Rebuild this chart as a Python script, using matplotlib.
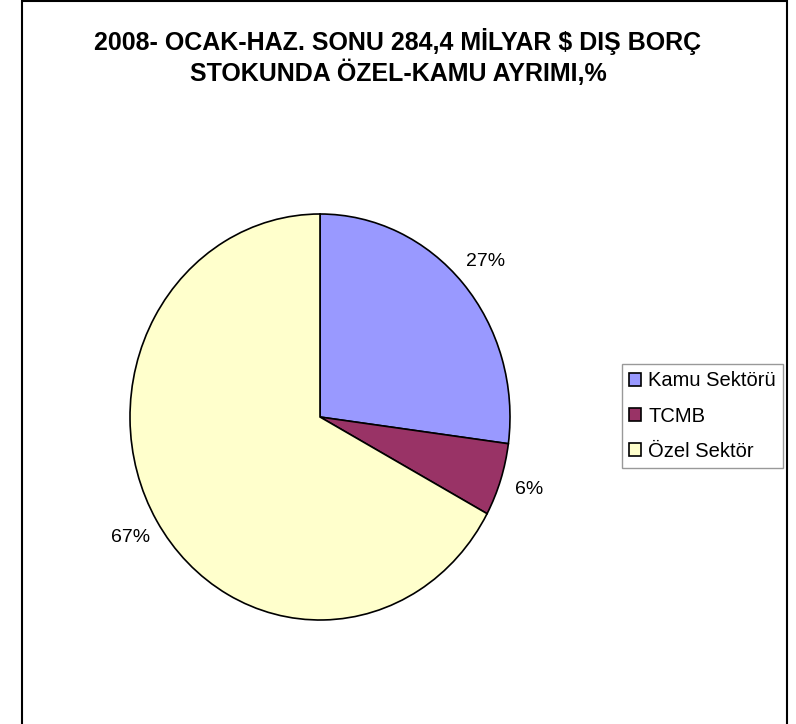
import matplotlib.pyplot as plt
from matplotlib.patches import Rectangle

plt.rcParams['font.family'] = ['Liberation Sans', 'DejaVu Sans']

labels = ['Kamu Sektörü', 'TCMB', 'Özel Sektör']
values = [27.1, 5.8, 67.1]
colors = ['#9999ff', '#993366', '#ffffcc']
title = '2008- OCAK-HAZ. SONU 284,4 MİLYAR $ DIŞ BORÇ\nSTOKUNDA ÖZEL-KAMU AYRIMI,%'

fig = plt.figure(figsize=(7.96, 7.24), dpi=100)

# outer chart frame
fig.patches.append(Rectangle((22 / 796, -0.01), 765 / 796, 1.0 - 1 / 724 + 0.01,
                             transform=fig.transFigure, fill=False,
                             edgecolor='black', linewidth=1.5))

# pie axes: center (320, 417), rx 190, ry 203 in pixels
ax = fig.add_axes([(320 - 190 * 1.3) / 796, 1 - (417 + 203 * 1.3) / 724,
                   190 * 2.6 / 796, 203 * 2.6 / 724])
wedges, texts, autotexts = ax.pie(values, colors=colors, startangle=90, counterclock=False,
                                  autopct='%1.0f%%', pctdistance=1.16,
                                  wedgeprops=dict(edgecolor='black', linewidth=1.2),
                                  textprops=dict(fontsize=14))
ax.set_aspect('auto')
ax.set_xlim(-1.3, 1.3)
ax.set_ylim(-1.3, 1.3)

fig.text(0.5, 1 - 57 / 724, title, ha='center', va='center', fontsize=18,
         fontweight='bold', linespacing=1.25)

leg = ax.legend(wedges, labels, loc='center left', bbox_to_anchor=(622 / 796, 1 - 416 / 724),
                bbox_transform=fig.transFigure, fontsize=14.5, frameon=True, fancybox=False,
                edgecolor='#808080', handlelength=0.6, handleheight=0.6, handletextpad=0.35,
                borderpad=0.35, labelspacing=0.8, borderaxespad=0)
leg.get_frame().set_linewidth(1.0)

fig.savefig('out.png', dpi=100)
